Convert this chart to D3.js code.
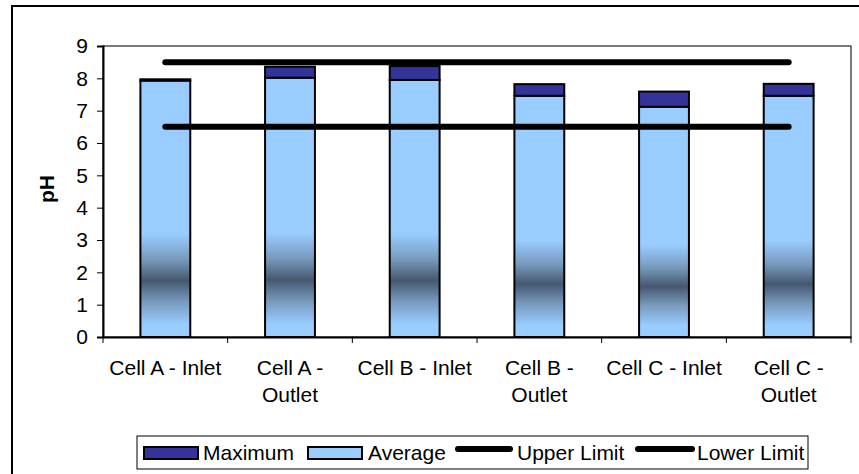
<!DOCTYPE html>
<html><head><meta charset="utf-8">
<script src="https://cdn.jsdelivr.net/npm/d3@7/dist/d3.min.js"></script>
<style>
body{margin:0;background:#fff;}
svg{display:block;font-family:"Liberation Sans",Arial,sans-serif;}
</style></head>
<body><svg id="c" width="859" height="474"></svg>
<script>
const categories = ["Cell A - Inlet","Cell A - Outlet","Cell B - Inlet","Cell B - Outlet","Cell C - Inlet","Cell C - Outlet"];
const average = [7.93, 8.02, 7.95, 7.46, 7.12, 7.46];
const maximum = [7.97, 8.36, 8.38, 7.82, 7.59, 7.83];
const upperLimit = 8.5;
const lowerLimit = 6.5;
const yTicks = [0,1,2,3,4,5,6,7,8,9];
const legendLabels = ["Maximum","Average","Upper Limit","Lower Limit"];

const svg = d3.select("#c");
const FS = 21;
const plot = {left:103, right:851, top:46, bottom:337};

// outer frame (extends past window right/bottom)
svg.append("rect").attr("x",12).attr("y",6).attr("width",900).attr("height",520)
  .attr("fill","#fff").attr("stroke","#000").attr("stroke-width",2);

const defs = svg.append("defs");
const grad = defs.append("linearGradient").attr("id","avgGrad")
  .attr("x1",0).attr("y1",0).attr("x2",0).attr("y2",1);
[[0,"#99CCFF"],[0.6,"#99CCFF"],[0.7,"#7798bb"],[0.78,"#45586f"],[0.86,"#7798bb"],[0.95,"#99CCFF"],[1,"#99CCFF"]]
  .forEach(([o,c])=>grad.append("stop").attr("offset",o).attr("stop-color",c));

const x = d3.scaleBand().domain(categories).range([plot.left, plot.right]).paddingInner(0).paddingOuter(0);
const y = d3.scaleLinear().domain([0,9]).range([plot.bottom, plot.top]);

// plot area border
svg.append("rect").attr("x",plot.left).attr("y",plot.top)
  .attr("width",plot.right-plot.left).attr("height",plot.bottom-plot.top)
  .attr("fill","#fff").attr("stroke","#222").attr("stroke-width",1.2);

const bw = x.bandwidth()*0.4;
const bars = categories.map((c,i)=>({c, avg:average[i], max:maximum[i]}));

// average bars
svg.append("g").selectAll("rect").data(bars).join("rect")
  .attr("x",d=>x(d.c)+(x.bandwidth()-bw)/2)
  .attr("y",d=>y(d.avg))
  .attr("width",bw)
  .attr("height",d=>y(0)-y(d.avg))
  .attr("fill","url(#avgGrad)").attr("stroke","#000").attr("stroke-width",2);
// maximum segments
svg.append("g").selectAll("rect").data(bars).join("rect")
  .attr("x",d=>x(d.c)+(x.bandwidth()-bw)/2)
  .attr("y",d=>y(d.max))
  .attr("width",bw)
  .attr("height",d=>y(d.avg)-y(d.max))
  .attr("fill","#333399").attr("stroke","#000").attr("stroke-width",2);

// limit lines
const cx = c => x(c)+x.bandwidth()/2;
[upperLimit, lowerLimit].forEach(v=>{
  const line = d3.line().x(d=>cx(d)).y(()=>y(v));
  svg.append("path").attr("d",line(categories)).attr("fill","none")
    .attr("stroke","#000").attr("stroke-width",6).attr("stroke-linecap","round");
});

// y axis
const yAxis = d3.axisLeft(y).tickValues(yTicks).tickSize(6).tickPadding(9).tickFormat(d3.format("d"));
const gy = svg.append("g").attr("transform",`translate(${plot.left},0)`).call(yAxis);
gy.select(".domain").attr("stroke","#000").attr("stroke-width",2);
gy.selectAll(".tick line").attr("stroke","#000");
gy.selectAll("text").attr("font-size",FS).attr("fill","#000").attr("font-family","Liberation Sans, Arial, sans-serif");

// x axis
const xAxis = d3.axisBottom(x).tickSize(0).tickPadding(0);
const gx = svg.append("g").attr("transform",`translate(0,${plot.bottom})`).call(xAxis);
gx.select(".domain").attr("stroke","#000").attr("stroke-width",2);
gx.selectAll(".tick text").remove();
// tick marks at category boundaries
const bounds = categories.map(c=>x(c)).concat([plot.right]);
svg.append("g").selectAll("line").data(bounds).join("line")
  .attr("x1",d=>d).attr("x2",d=>d).attr("y1",plot.bottom).attr("y2",plot.bottom+6)
  .attr("stroke","#000").attr("stroke-width",1);
// wrapped category labels
const lab = svg.append("g").attr("font-size",FS).attr("text-anchor","middle");
categories.forEach(c=>{
  const t = lab.append("text").attr("x",cx(c)).attr("y",375);
  const words = c.split(" ");
  let line = [], lines = [];
  const probe = lab.append("text").attr("font-size",FS);
  words.forEach(w=>{
    const test = line.concat([w]).join(" ");
    probe.text(test);
    if (probe.node().getComputedTextLength() > x.bandwidth()-2 && line.length){
      lines.push(line.join(" ")); line=[w];
    } else line.push(w);
  });
  lines.push(line.join(" "));
  probe.remove();
  lines.forEach((l,k)=>t.append("tspan").attr("x",cx(c)).attr("dy",k===0?0:27).text(l));
});

// y axis title
svg.append("text").attr("transform","translate(54,189) rotate(-90)")
  .attr("text-anchor","middle").attr("font-size",FS).attr("font-weight","bold").text("pH");

// legend
const lg = svg.append("g");
lg.append("rect").attr("x",137).attr("y",436).attr("width",671).attr("height",33)
  .attr("fill","#fff").attr("stroke","#000").attr("stroke-width",1);
const items = [
  {type:"rect", fill:"#333399", x0:144, x1:198, tx:203},
  {type:"rect", fill:"#99CCFF", x0:308, x1:362, tx:368},
  {type:"line", x0:458, x1:510, tx:517},
  {type:"line", x0:638, x1:692, tx:697}
];
items.forEach((it,i)=>{
  if (it.type==="rect"){
    lg.append("rect").attr("x",it.x0).attr("y",447).attr("width",it.x1-it.x0).attr("height",12)
      .attr("fill",it.fill).attr("stroke","#000").attr("stroke-width",2);
  } else {
    lg.append("line").attr("x1",it.x0).attr("x2",it.x1).attr("y1",449).attr("y2",449)
      .attr("stroke","#000").attr("stroke-width",6).attr("stroke-linecap","round");
  }
  lg.append("text").attr("x",it.tx).attr("y",460).attr("font-size",FS).text(legendLabels[i]);
});
</script></body></html>
